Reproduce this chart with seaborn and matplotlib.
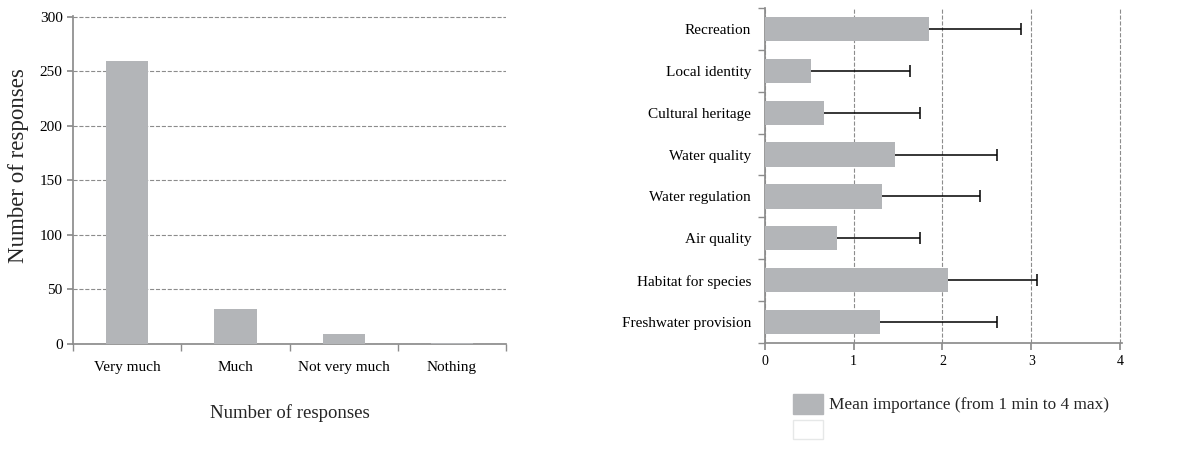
import matplotlib
matplotlib.use('Agg')
import matplotlib.pyplot as plt
from matplotlib.patches import Patch
from matplotlib.ticker import FixedLocator
import seaborn as sns
import numpy as np
import pandas as pd

# left panel: how much respondents value the river
answers = ['Very much', 'Much', 'Not very much', 'Nothing']
counts = [259, 32, 9, 1]

# right panel: mean importance of each service, with one-sided error
services = ['Recreation', 'Local identity', 'Cultural heritage', 'Water quality',
            'Water regulation', 'Air quality', 'Habitat for species', 'Freshwater provision']
mean_importance = [1.85, 0.52, 0.66, 1.46, 1.32, 0.81, 2.06, 1.30]
error_plus = [1.04, 1.11, 1.09, 1.15, 1.10, 0.94, 1.00, 1.31]

bar_color = '#b3b5b8'
axis_color = '#8c8c8c'

sns.set_theme(style='white')
plt.rcParams['font.family'] = ['Liberation Serif', 'DejaVu Serif']

fig = plt.figure(figsize=(11.93, 4.55), dpi=100)
ax1 = fig.add_axes([0.0612, 0.2440, 0.3630, 0.7209])
ax2 = fig.add_axes([0.6412, 0.2462, 0.2991, 0.7363])

# ---- left bar chart
df1 = pd.DataFrame({'answer': answers, 'count': counts})
sns.barplot(data=df1, x='answer', y='count', color=bar_color, saturation=1,
            width=0.39, linewidth=0, ax=ax1, zorder=3)
ax1.set_ylim(0, 300.5)
ax1.set_xlim(-0.5, len(answers) - 0.5)
ax1.set_yticks([0, 50, 100, 150, 200, 250, 300])
ax1.yaxis.grid(True, linestyle='--', color=axis_color, linewidth=0.8, zorder=0)
ax1.set_axisbelow(True)
ax1.xaxis.set_minor_locator(FixedLocator(np.arange(-0.5, len(answers), 1.0)))
ax1.tick_params(axis='x', which='major', length=0, labelsize=11, pad=12, colors='black')
ax1.tick_params(axis='x', which='minor', length=5, color=axis_color, direction='out', bottom=True)
ax1.tick_params(axis='y', length=4, labelsize=11, left=True, colors='black')
ax1.tick_params(axis='y', color=axis_color)
ax1.set_xlabel('Number of responses', fontsize=13.5, labelpad=22)
ax1.set_ylabel('Number of responses', fontsize=16.5)
ax1.yaxis.set_label_coords(-0.101, 0.543)
for s in ['top', 'right']:
    ax1.spines[s].set_visible(False)
for s in ['left', 'bottom']:
    ax1.spines[s].set_color(axis_color)

# ---- right horizontal bar chart
df2 = pd.DataFrame({'service': services, 'mean': mean_importance})
sns.barplot(data=df2, y='service', x='mean', color=bar_color, saturation=1,
            width=0.58, linewidth=0, orient='h', ax=ax2, zorder=3)
ypos = np.arange(len(services))
eb = ax2.errorbar(mean_importance, ypos, xerr=[np.zeros(len(services)), error_plus],
                  fmt='none', ecolor='black', elinewidth=1.1, capsize=4, capthick=1.1, zorder=4)
eb[1][0].set_visible(False)
ax2.set_xlim(0, 4.02)
ax2.set_ylim(len(services) - 0.5, -0.5)
ax2.set_xticks([0, 1, 2, 3, 4])
ax2.xaxis.grid(True, linestyle='--', color=axis_color, linewidth=0.8, zorder=0)
ax2.set_axisbelow(True)
ax2.yaxis.set_minor_locator(FixedLocator(np.arange(-0.5, len(services), 1.0)))
ax2.tick_params(axis='y', which='major', length=0, labelsize=11, pad=10, colors='black')
ax2.tick_params(axis='y', which='minor', length=5, color=axis_color, direction='out', left=True)
ax2.tick_params(axis='x', length=5, color=axis_color, labelsize=10, bottom=True, colors='black')
ax2.set_xlabel('')
ax2.set_ylabel('')
for s in ['top', 'right']:
    ax2.spines[s].set_visible(False)
for s in ['left', 'bottom']:
    ax2.spines[s].set_color(axis_color)

handles = [Patch(facecolor=bar_color, edgecolor=bar_color),
           Patch(facecolor='white', edgecolor='#e6e8e8')]
fig.legend(handles, ['Mean importance (from 1 min to 4 max)', ''],
           loc='upper left', bbox_to_anchor=(0.659, 0.150), frameon=False,
           fontsize=12.4, handlelength=1.75, handleheight=1.4, handletextpad=0.35,
           labelspacing=0.35, borderaxespad=0)

fig.savefig('out.png', dpi=100)
